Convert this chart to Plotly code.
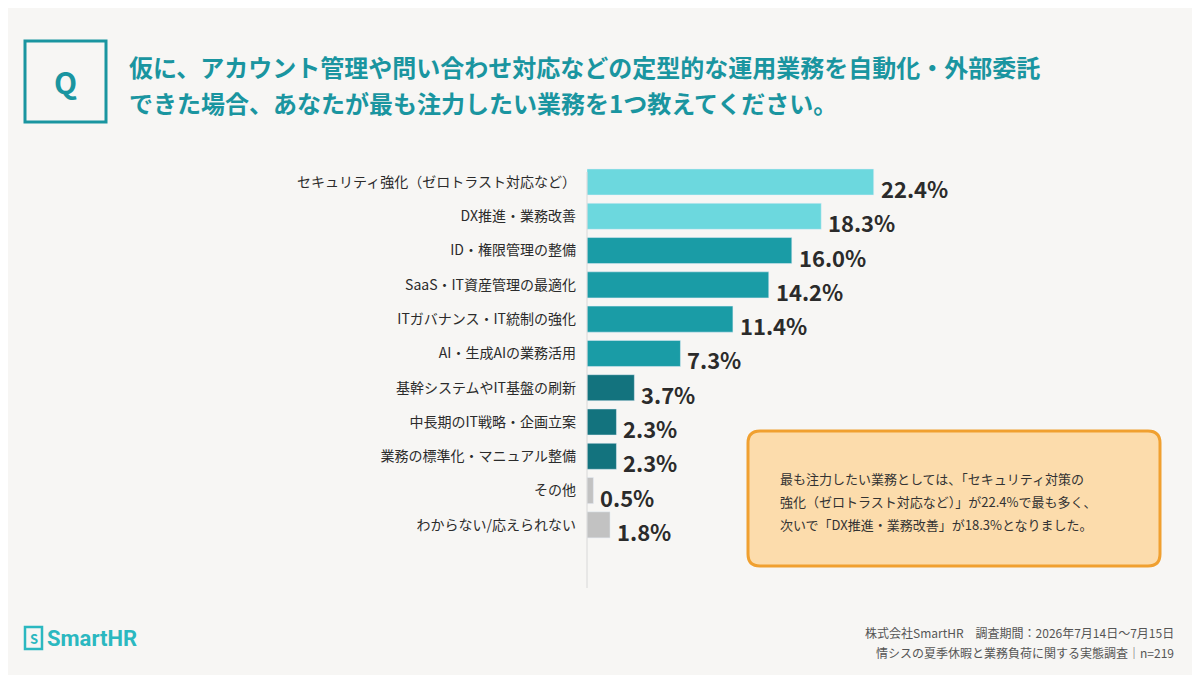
import re
import plotly.graph_objects as go

categories = ["セキュリティ強化（ゼロトラスト対応など）", "DX推進・業務改善", "ID・権限管理の整備",
              "SaaS・IT資産管理の最適化", "ITガバナンス・IT統制の強化", "AI・生成AIの業務活用",
              "基幹システムやIT基盤の刷新", "中長期のIT戦略・企画立案", "業務の標準化・マニュアル整備",
              "その他", "わからない/応えられない"]
values = [22.4, 18.3, 16.0, 14.2, 11.4, 7.3, 3.7, 2.3, 2.3, 0.5, 1.8]
colors = ["#6cd8de", "#6cd8de", "#1a9ca6", "#1a9ca6", "#1a9ca6", "#1a9ca6",
          "#13737e", "#13737e", "#13737e", "#c2c2c2", "#c2c2c2"]

W, H = 1200, 675
OFF = 8  # page body margin
FONT = "Noto Sans CJK JP"
TEAL = "#1a95a0"


def px(x):
    return (x - OFF) / W


def py(y):
    return 1 - (y - OFF) / H


fig = go.Figure(go.Bar(
    x=values, y=categories, orientation="h", marker_color=colors, width=0.76,
    hoverinfo="skip",
))

for c, v in zip(categories, values):
    fig.add_annotation(x=v, y=c, text=f"<b>{v:.1f}%</b>", showarrow=False,
                       xanchor="left", yanchor="middle", xshift=5, yshift=-6,
                       font=dict(size=22, color="#2b2b2b", family=FONT))

# axis line
fig.add_shape(type="line", xref="paper", yref="paper", x0=px(587), x1=px(587),
              y0=py(172), y1=py(588), line=dict(color="#d8d8d8", width=1))

# Q box
fig.add_shape(type="rect", xref="paper", yref="paper", x0=px(25), x1=px(106),
              y0=py(41), y1=py(122), line=dict(color=TEAL, width=3))
fig.add_annotation(xref="paper", yref="paper", x=px(65), y=py(81), text="<b>Q</b>",
                   xanchor="center", yanchor="middle",
                   showarrow=False, font=dict(size=30, color=TEAL, family=FONT))
for i, line in enumerate(["仮に、アカウント管理や問い合わせ対応などの定型的な運用業務を自動化・外部委託",
                          "できた場合、あなたが最も注力したい業務を1つ教えてください。"]):
    fig.add_annotation(xref="paper", yref="paper", x=px(127), y=py(67 + 36 * i),
                       text=f"<b>{line}</b>", showarrow=False, xanchor="left", yanchor="middle",
                       font=dict(size=24, color=TEAL, family=FONT))

# callout box
x0, x1, y0, y1, r = 748, 1160, 431, 566, 12
path = (f"M{x0+r},{y0} L{x1-r},{y0} Q{x1},{y0} {x1},{y0+r} L{x1},{y1-r} Q{x1},{y1} {x1-r},{y1} "
        f"L{x0+r},{y1} Q{x0},{y1} {x0},{y1-r} L{x0},{y0+r} Q{x0},{y0} {x0+r},{y0} Z")
path = re.sub(r"([\d.]+),([\d.]+)",
              lambda m: f"{px(float(m.group(1)))},{py(float(m.group(2)))}", path)
fig.add_shape(type="path", xref="paper", yref="paper", path=path,
              fillcolor="#fcdcac", line=dict(color="#f0a030", width=3), layer="below")
for i, line in enumerate(["最も注力したい業務としては、「セキュリティ対策の",
                          "強化（ゼロトラスト対応など）」が22.4%で最も多く、",
                          "次いで「DX推進・業務改善」が18.3%となりました。"]):
    fig.add_annotation(xref="paper", yref="paper", x=px(778), y=py(478 + 23 * i),
                       text=line, showarrow=False, xanchor="left", yanchor="middle",
                       font=dict(size=13, color="#333", family=FONT))

# footer
fig.add_annotation(xref="paper", yref="paper", x=px(1176), y=py(632), xanchor="right",
                   yanchor="middle",
                   text="株式会社SmartHR　調査期間：2026年7月14日〜7月15日", showarrow=False,
                   font=dict(size=12, color="#555", family=FONT))
fig.add_annotation(xref="paper", yref="paper", x=px(1176), y=py(652), xanchor="right",
                   yanchor="middle",
                   text="情シスの夏季休暇と業務負荷に関する実態調査｜n=219", showarrow=False,
                   font=dict(size=12, color="#555", family=FONT))
fig.add_shape(type="rect", xref="paper", yref="paper", x0=px(25), x1=px(42),
              y0=py(627), y1=py(649), line=dict(color="#2bb8c0", width=2.5))
fig.add_annotation(xref="paper", yref="paper", x=px(33.5), y=py(638), text="<b>S</b>",
                   xanchor="center", yanchor="middle",
                   showarrow=False, font=dict(size=13, color="#2bb8c0", family=FONT))
fig.add_annotation(xref="paper", yref="paper", x=px(45), y=py(638), xanchor="left",
                   yanchor="middle", text="<b>SmartHR</b>", showarrow=False,
                   font=dict(size=22, color="#2bb8c0", family="Roboto"))

fig.update_layout(
    width=W, height=H, margin=dict(l=0, r=0, t=0, b=0),
    paper_bgcolor="#f7f6f4", plot_bgcolor="#f7f6f4", showlegend=False,
    xaxis=dict(domain=[px(587), 1], range=[0, (W - 587 + OFF) / 12.8], visible=False,
               fixedrange=True),
    yaxis=dict(domain=[py(542), py(158)], autorange="reversed", showgrid=False,
               ticks="", ticklabelstandoff=10, showline=False,
               tickfont=dict(size=14, color="#2b2b2b", family=FONT)),
)

fig.write_html("out.html")
